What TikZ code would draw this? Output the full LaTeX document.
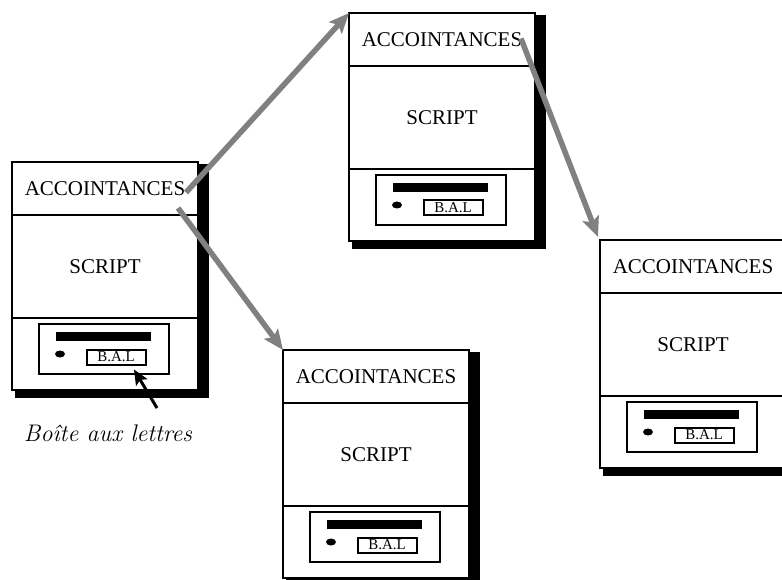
\documentclass[tikz,border=0pt]{standalone}
\usepackage{fontspec}
\newfontfamily\timesfont{Liberation Serif}
\usepackage{tikz}
\usetikzlibrary{positioning, arrows.meta, calc}
\usepackage{xcolor}
\definecolor{linkgray}{RGB}{128,128,128}

\begin{document}
\begin{tikzpicture}[x=1pt, y=-1pt, >={Stealth[inset=4pt,length=20pt,width=17pt]},
                section/.style={draw, fill=white, line width=2.6pt, outer sep=0pt, inner sep=0pt,
                    minimum width=186pt, font=\timesfont\fontsize{21}{25}\selectfont},
                acqsec/.style={section, minimum height=53pt},
                scriptsec/.style={section, minimum height=103pt},
                balsec/.style={section, minimum height=72pt},
                mailbox/.style={draw, line width=2.4pt, minimum width=130pt, minimum height=50pt,
                    inner sep=0pt, outer sep=0pt},
                baltag/.style={draw, line width=2pt, minimum width=59pt, minimum height=15pt,
                    inner sep=0pt, font=\timesfont\fontsize{15}{16}\selectfont},
                link/.style={->, draw=linkgray, line width=5.5pt}]

                \useasboundingbox (0,0) rectangle (782,580);

                % the four agents
                \foreach \n/\x/\y in {1/12/162, 2/349/13, 3/283/350, 4/600/240} {
                    \fill (\x+3,\y+2) rectangle (\x+197,\y+236);
                    \node[acqsec, anchor=north west] (acq\n) at (\x,\y) {ACCOINTANCES};
                    \node[scriptsec] (script\n) [below=0pt of acq\n] {SCRIPT};
                    \node[balsec] (bal\n) [below=0pt of script\n] {};
                    \node[mailbox] (mbox\n) at ($(bal\n.north)+(-1,31)$) {};
                    \fill ($(mbox\n.north west)+(17,8)$) rectangle +(95,9);
                    \fill ($(mbox\n.north west)+(21,30)$) ellipse (5pt and 3.5pt);
                    \node[baltag] (tag\n) at ($(mbox\n.north west)+(77,33)$) {B.A.L};
                }

                \node[font=\itshape\fontsize{24}{28}\selectfont] (letterbox) at (108,433) {Boîte aux lettres};
                \draw[->, line width=3pt, >={Stealth[inset=3pt,length=15pt,width=13pt]}]
                    ([shift={(49,-13)}]letterbox.north) -- ([shift={(18,4)}]tag1.south);

                \path
                ([shift={(-12,4)}]acq1.east) edge[link] (acq2.north west)
                ([shift={(-20,-7)}]acq1.south east) edge[link] (acq3.north west)
                ([shift={(-14,-1)}]acq2.east) edge[link] ([shift={(-2,-3)}]acq4.north west);
            \end{tikzpicture}
\end{document}
